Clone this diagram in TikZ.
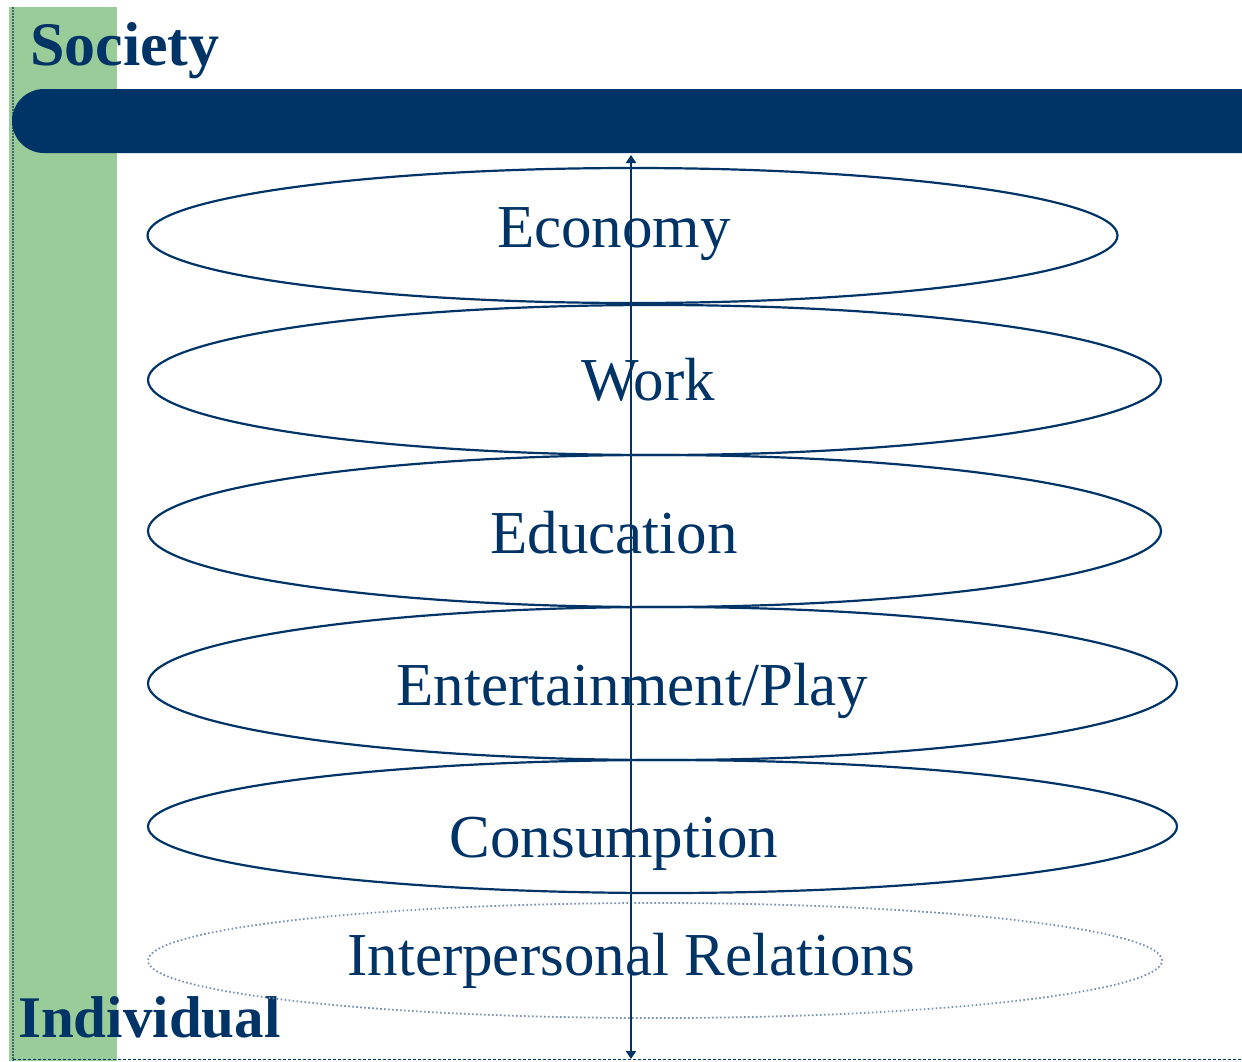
\documentclass[tikz,border=0pt]{standalone}
\usepackage{fontspec}
\setmainfont{Liberation Serif}
\usetikzlibrary{shapes.geometric,arrows.meta}
\definecolor{navy}{RGB}{0,51,102}
\definecolor{stripgreen}{RGB}{153,204,153}
\definecolor{dotblue}{RGB}{120,145,178}
\definecolor{edgeteal}{RGB}{60,100,110}
\tikzset{
  layer/.style={ellipse, draw=navy, line width=2.2pt, inner sep=0pt},
  softlayer/.style={ellipse, draw=dotblue, line width=1.8pt, dash pattern=on 1.6pt off 2.4pt, inner sep=0pt},
  lbl/.style={anchor=base, text=navy, inner sep=0pt, font=\fontsize{61}{61}\selectfont},
  head/.style={anchor=base west, text=navy, inner sep=0pt, font=\fontsize{62}{62}\selectfont\bfseries},
}
\begin{document}
\begin{tikzpicture}[x=1pt,y=-1pt]
\useasboundingbox (0,0) rectangle (1242,1061);
% green strip
\fill[stripgreen] (9,7) rectangle (117,1061);
\draw[edgeteal, line width=2pt, dash pattern=on 2pt off 1pt] (13,7) -- (13,1061);
\draw[navy, line width=1.5pt, dash pattern=on 3pt off 2pt] (13,1059.5) -- (1242,1059.5);
% top bar
\fill[navy] (1250,89) [rounded corners=32pt] -- (12,89) -- (12,153) [sharp corners] -- (1250,153) -- cycle;
\node[head] (society) at (30,65) {Society};
\node[head, font=\fontsize{59}{59}\selectfont\bfseries] (individual) at (18,1037) {Individual};
% layers
\node[layer, minimum width=970pt, minimum height=135pt] (e1) at (632.5,235.5) {};
\node[layer, minimum width=1013pt, minimum height=150pt] (e2) at (654.5,380) {};
\node[layer, minimum width=1013pt, minimum height=152pt] (e3) at (654.5,531) {};
\node[layer, minimum width=1029pt, minimum height=153pt] (e4) at (662.5,683.5) {};
\node[layer, minimum width=1029pt, minimum height=133pt] (e5) at (662.5,826.5) {};
\node[softlayer, minimum width=1014pt, minimum height=115pt] (e6) at (655,960.5) {};
% labels
\node[lbl] (t1) at (614,247) {Economy};
\node[lbl] (t2) at (648,400) {Work};
\node[lbl] (t3) at (614,553) {Education};
\node[lbl] (t4) at (632,705) {Entertainment/Play};
\node[lbl] (t5) at (614,857) {Consumption};
\node[lbl] (t6) at (631,975) {Interpersonal Relations};
% axis arrow
\coordinate (atop) at (631,155);
\coordinate (abot) at (631,1059);
\draw[navy, line width=2.2pt, {Triangle[width=10pt,length=8pt]}-{Triangle[width=10pt,length=8pt]}] (atop) -- (abot);
\end{tikzpicture}
\end{document}
